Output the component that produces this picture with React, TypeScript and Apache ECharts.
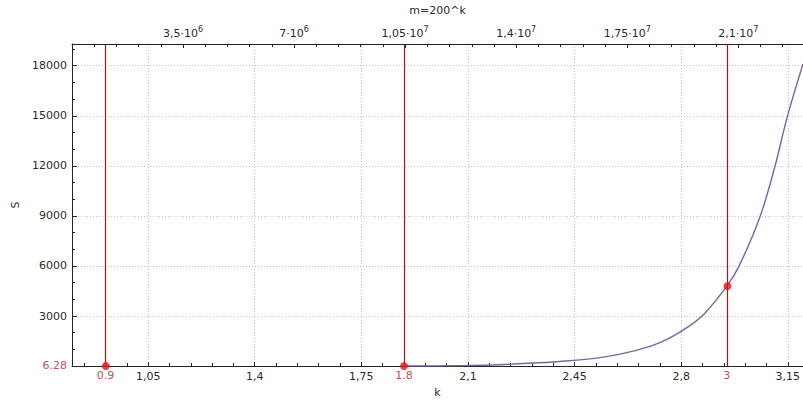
import React, { useEffect, useRef } from "react";
import * as echarts from "echarts";

// Bottom axis (k)
const kMin = 0.8;
const kMax = 3.2;
const kTicks = [1.05, 1.4, 1.75, 2.1, 2.45, 2.8, 3.15];
const kTickLabels = ["1,05", "1,4", "1,75", "2,1", "2,45", "2,8", "3,15"];
const kMinorStep = 0.07;

// Top axis (m)
const mMin = 0;
const mMax = 2.304e7;
const mInterval = 3.5e6;
const mTicks = [3.5e6, 7e6, 1.05e7, 1.4e7, 1.75e7, 2.1e7];
const mTickMantissa = ["3,5", "7", "1,05", "1,4", "1,75", "2,1"];
const mTickExponent = ["6", "6", "7", "7", "7", "7"];

// Left axis (S)
const sMin = 0;
const sMax = 19300;
const sInterval = 3000;

// Curve S(k)
const curveK = [1.89, 2.0, 2.1, 2.2, 2.3, 2.4, 2.5, 2.6, 2.7, 2.76, 2.83, 2.877, 2.95, 2.99, 3.058, 3.107, 3.148, 3.2];
const curveS = [6, 14, 35, 85, 170, 280, 430, 720, 1200, 1660, 2440, 3150, 4790, 5990, 8900, 11900, 14900, 18100];

// Red markers
const markerLabels = ["0.9", "1.8", "3"];
const markerK = [0.911, 1.89, 2.952];
const markerS = [6.28, 6.28, 4790];
const sMarkerLabel = "6.28";
const sMarkerValue = 6.28;

const FONT = "DejaVu Sans";
const LABEL_COLOR = "#2b2b2b";
const RED_LINE = "#a8161c";
const RED_DOT = "#e3141c";
const RED_TEXT = "#c8505a";
const GRID_COLOR = "#c4c4c4";

function buildMinorK(): number[] {
  const out: number[] = [];
  const start = kTicks[0];
  for (let i = -10; i <= 40; i++) {
    const v = Math.round((start + i * kMinorStep) * 1000) / 1000;
    if (v > kMin && v < kMax) out.push(v);
  }
  return out;
}

export default function App() {
  const ref = useRef<HTMLDivElement>(null);

  useEffect(() => {
    if (!ref.current) return;
    const chart = echarts.init(ref.current, undefined, { renderer: "svg" });

    const curveData = curveK.map((k, i) => [k, curveS[i]]);
    const markerData = markerK.map((k, i) => [k, markerS[i]]);
    const dotted = { color: GRID_COLOR, type: [1, 2], width: 1 };

    const option: any = {
      animation: false,
      backgroundColor: "#ffffff",
      textStyle: { fontFamily: FONT },
      grid: { left: 72, right: 0, top: 42, bottom: 28, containLabel: false },
      xAxis: [
        {
          type: "value",
          position: "bottom",
          min: kMin,
          max: kMax,
          name: "k",
          nameLocation: "middle",
          nameGap: 15,
          nameTextStyle: { color: LABEL_COLOR, fontSize: 11, fontFamily: FONT },
          axisLine: { show: true, onZero: false, lineStyle: { color: "#222", width: 1 } },
          axisTick: { show: true, inside: true, length: 4, customValues: kTicks, lineStyle: { color: "#222" } },
          axisLabel: {
            show: true,
            customValues: kTicks,
            margin: 5,
            color: LABEL_COLOR,
            fontSize: 11,
            fontFamily: FONT,
            formatter: (v: number) => {
              const i = kTicks.findIndex((t) => Math.abs(t - v) < 1e-6);
              return i >= 0 ? kTickLabels[i] : "";
            },
          },
          splitLine: { show: true, lineStyle: dotted },
        },
        {
          type: "value",
          position: "bottom",
          min: kMin,
          max: kMax,
          axisLine: { show: false },
          axisTick: { show: true, inside: true, length: 3, customValues: buildMinorK(), lineStyle: { color: "#222" } },
          axisLabel: { show: false },
          splitLine: { show: false },
        },
        {
          type: "value",
          position: "top",
          min: mMin,
          max: mMax,
          interval: mInterval,
          name: "m=200^k",
          nameLocation: "middle",
          nameGap: 28,
          nameTextStyle: { color: LABEL_COLOR, fontSize: 11, fontFamily: FONT },
          axisLine: { show: true, onZero: false, lineStyle: { color: "#222", width: 1 } },
          axisTick: { show: true, inside: true, length: 4, lineStyle: { color: "#222" } },
          minorTick: { show: true, splitNumber: 5, length: 3, lineStyle: { color: "#222" } },
          axisLabel: {
            show: true,
            margin: 5,
            showMinLabel: false,
            showMaxLabel: false,
            color: LABEL_COLOR,
            fontSize: 11,
            fontFamily: FONT,
            formatter: (v: number) => {
              const i = mTicks.findIndex((t) => Math.abs(t - v) < 1);
              return i >= 0 ? `{b|${mTickMantissa[i]}·10}{s|${mTickExponent[i]}}` : "";
            },
            rich: {
              b: { color: LABEL_COLOR, fontSize: 11, fontFamily: FONT, verticalAlign: "bottom", lineHeight: 14 },
              s: { color: LABEL_COLOR, fontSize: 8, fontFamily: FONT, verticalAlign: "top", lineHeight: 14, padding: [0, 0, 3, 0] },
            },
          },
          splitLine: { show: false },
        },
      ],
      yAxis: [
        {
          type: "value",
          position: "left",
          min: sMin,
          max: sMax,
          interval: sInterval,
          name: "S",
          nameLocation: "middle",
          nameGap: 32,
          nameTextStyle: { color: LABEL_COLOR, fontSize: 11, fontFamily: FONT },
          axisLine: { show: true, onZero: false, lineStyle: { color: "#222", width: 1 } },
          axisTick: { show: true, inside: true, length: 5, lineStyle: { color: "#222" } },
          axisLabel: {
            show: true,
            margin: 5,
            showMinLabel: false,
            showMaxLabel: false,
            color: LABEL_COLOR,
            fontSize: 11,
            fontFamily: FONT,
            formatter: (v: number) => String(Math.round(v)),
          },
          splitLine: { show: true, lineStyle: dotted },
        },
        {
          type: "value",
          position: "left",
          min: sMin,
          max: sMax,
          interval: 1000,
          axisLine: { show: false },
          axisTick: { show: true, inside: true, length: 3, lineStyle: { color: "#222" } },
          axisLabel: { show: false },
          splitLine: { show: false },
        },
      ],
      series: [
        {
          type: "line",
          xAxisIndex: 0,
          yAxisIndex: 0,
          data: curveData,
          smooth: 0.35,
          showSymbol: false,
          lineStyle: { color: "#7d63a6", width: 1.4 },
          z: 2,
        },
        {
          type: "scatter",
          xAxisIndex: 0,
          yAxisIndex: 0,
          data: markerData,
          symbol: "circle",
          symbolSize: 8,
          itemStyle: { color: RED_DOT },
          z: 5,
          markLine: {
            silent: true,
            symbol: ["none", "none"],
            lineStyle: { color: RED_LINE, type: "solid", width: 1.2 },
            label: {
              show: true,
              position: "start",
              distance: 4,
              color: RED_TEXT,
              fontSize: 11,
              fontFamily: FONT,
            },
            data: [
              ...markerK.map((k, i) => ({
                xAxis: k,
                label: { formatter: markerLabels[i] },
              })),
              {
                yAxis: sMarkerValue,
                lineStyle: { color: "rgba(0,0,0,0)", width: 0 },
                label: { formatter: sMarkerLabel, distance: 5, color: RED_TEXT, show: true },
              },
            ],
          },
        },
      ],
    };

    chart.setOption(option);
    return () => chart.dispose();
  }, []);

  return (
    <div
      ref={ref}
      style={{ position: "fixed", left: 0, top: 0, width: 803, height: 403, background: "#fff" }}
    />
  );
}
